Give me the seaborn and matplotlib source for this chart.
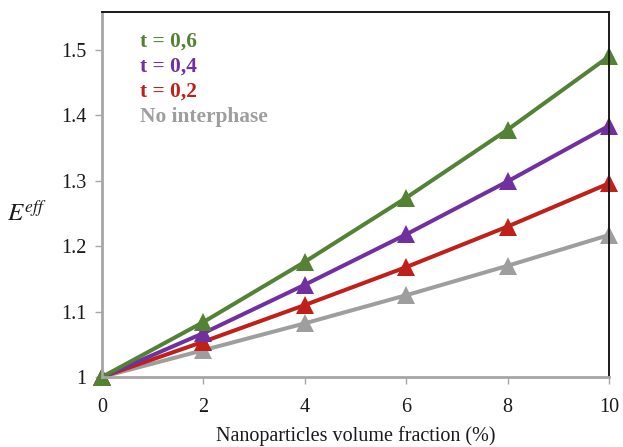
import numpy as np
import pandas as pd
import matplotlib
matplotlib.use("Agg")
import matplotlib.pyplot as plt
import seaborn as sns

# Volume fraction of nanoparticles (%)
fraction = [0, 2, 4, 6, 8, 10]

# Effective modulus for each interphase thickness
e_t06 = [1.000, 1.084, 1.176, 1.274, 1.378, 1.490]
e_t04 = [1.000, 1.067, 1.141, 1.218, 1.299, 1.384]
e_t02 = [1.000, 1.054, 1.110, 1.168, 1.230, 1.296]
e_none = [1.000, 1.041, 1.082, 1.125, 1.170, 1.217]

series_names = ["t = 0,6", "t = 0,4", "t = 0,2", "No interphase"]
series_values = [e_t06, e_t04, e_t02, e_none]
colors = ["#548235", "#7030A0", "#C0201A", "#9E9E9E"]

x_ticks = [0, 2, 4, 6, 8, 10]
y_ticks = [1.0, 1.1, 1.2, 1.3, 1.4, 1.5]
y_tick_labels = ["1", "1.1", "1.2", "1.3", "1.4", "1.5"]

df = pd.concat(
    [pd.DataFrame({"fraction": fraction, "E": vals, "series": name})
     for name, vals in zip(series_names, series_values)],
    ignore_index=True,
)

sns.set_theme(style="white")
plt.rcParams["font.family"] = ["Liberation Serif", "DejaVu Serif"]
plt.rcParams["mathtext.fontset"] = "stix"

fig = plt.figure(figsize=(6.23, 4.47), dpi=100)
ax = fig.add_axes([0.1637, 0.1566, 0.8138, 0.8166])

# draw back to front so the top curve sits above the others
draw_order = list(zip(series_names, colors))[::-1]
for name, col in draw_order:
    sns.lineplot(
        data=df[df["series"] == name], x="fraction", y="E",
        color=col, linewidth=2.9, marker="^", markersize=12.5,
        markeredgewidth=0, ax=ax, legend=False, clip_on=False,
    )

ax.set_xlim(0, 10)
ax.set_ylim(1.0, 1.558)
ax.set_xticks(x_ticks)
ax.set_xticklabels([str(v) for v in x_ticks])
ax.set_yticks(y_ticks)
ax.set_yticklabels(y_tick_labels)

for side in ["left", "bottom"]:
    ax.spines[side].set_color("#A6A6A6")
    ax.spines[side].set_linewidth(2.0)
for side in ["top", "right"]:
    ax.spines[side].set_color("#1A1A1A")
    ax.spines[side].set_linewidth(1.4)

ax.tick_params(axis="both", which="major", direction="out", length=5,
               width=1.0, color="#A6A6A6", labelsize=14.5, labelcolor="#1A1A1A",
               bottom=True, left=True, pad=6)
ax.tick_params(axis="x", pad=10)

ax.set_xlabel("Nanoparticles volume fraction (%)", fontsize=14.5,
              color="#1A1A1A", labelpad=7)
ax.set_ylabel("")
fig.text(0.012, 0.523, r"$E^{eff}$", fontsize=18, color="#1A1A1A",
         ha="left", va="center")

# coloured series labels in the upper-left corner
for i, (name, col) in enumerate(zip(series_names, colors)):
    ax.text(0.074, 0.918 - i * 0.0685, name, transform=ax.transAxes,
            color=col, fontsize=15.4, fontweight="bold", ha="left", va="center")

fig.savefig("out.png", dpi=100)
